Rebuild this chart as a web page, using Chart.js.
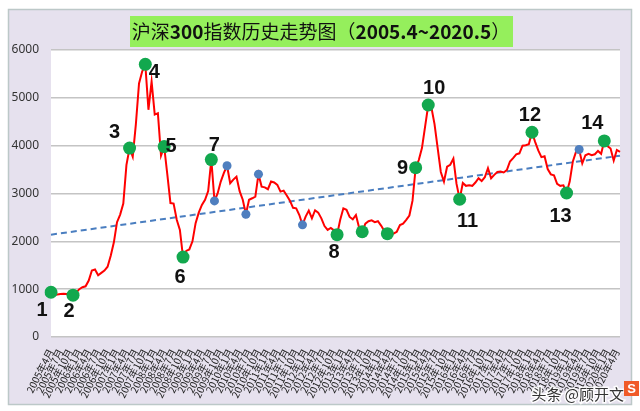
<!DOCTYPE html>
<html>
<head>
<meta charset="utf-8">
<script src="https://cdn.jsdelivr.net/npm/chart.js@4.4.1/dist/chart.umd.min.js"></script>
<style>
  html, body { margin: 0; padding: 0; background: #fff; }
</style>
</head>
<body>
<canvas id="myChart" width="640" height="411"></canvas>
<script>
// monthly index level, 2005年4月 .. 2020年5月
const values = [
  935, 880, 890, 900, 905, 900, 890, 875, 925,                       // 2005
  1000, 1040, 1060, 1180, 1390, 1410, 1290, 1340, 1390, 1470, 1700, 1980, // 2006
  2400, 2560, 2790, 3600, 3950, 3770, 4450, 5300, 5550, 5700, 4750, 5340, // 2007
  4650, 4680, 3790, 3980, 3400, 2800, 2790, 2450, 2240, 1670, 1800, 1830, // 2008
  2000, 2380, 2600, 2760, 2870, 3050, 3710, 2845, 3000, 3250, 3430, 3580, // 2009
  3215, 3290, 3350, 3050, 2870, 2567, 2870, 2900, 2935, 3404, 3144, 3128, // 2010
  3090, 3250, 3230, 3180, 3040, 3060, 2960, 2850, 2700, 2690, 2550, 2345, // 2011
  2517, 2643, 2482, 2650, 2600, 2480, 2320, 2240, 2280, 2230, 2140, 2450, // 2012
  2690, 2660, 2510, 2460, 2550, 2290, 2200, 2370, 2420, 2440, 2400, 2420, // 2013
  2330, 2220, 2160, 2150, 2165, 2200, 2340, 2370, 2450, 2540, 2850, 3540, // 2014
  3700, 3950, 4400, 4850, 4800, 4450, 3950, 3450, 3250, 3560, 3600, 3730, // 2015
  3200, 2880, 3220, 3160, 3170, 3160, 3230, 3320, 3260, 3340, 3530, 3320, // 2016
  3390, 3450, 3460, 3440, 3490, 3670, 3740, 3820, 3840, 4000, 4010, 4030, // 2017
  4280, 4080, 3900, 3760, 3780, 3510, 3400, 3380, 3200, 3160, 3170, 3010, // 2018
  3250, 3670, 3870, 3920, 3630, 3800, 3830, 3800, 3820, 3890, 3830, 4100, // 2019
  3990, 3940, 3690, 3910, 3870                                       // 2020
]

// linear trend, value at first and last month
const trendEnds = [2140, 3790]

// marked points
const greenPoints = [0, 7, 25, 30, 36, 42, 51, 91, 99, 107, 116, 120, 130, 153, 164, 176]
const bluePoints = [52, 56, 62, 66, 80, 168]
const numberedPoints = [0, 7, 25, 30, 36, 42, 51, 91, 116, 120, 130, 153, 164, 176]
const pointNumbers = ['1', '2', '3', '4', '5', '6', '7', '8', '9', '10', '11', '12', '13', '14']
// where each number sits relative to its dot (px)
const numberOffsets = [
  [-9, 18], [-4, 16], [-15, -16], [9, 8], [7, 0], [-3, 20], [3, -14],
  [-3, 18], [-13, 1], [6, -17], [8, 22], [-2, -17], [-6, 23], [-12, -17]
]

const yTicks = [0, 1000, 2000, 3000, 4000, 5000, 6000]

const labels = []
for (let i = 0; i < values.length; i++) {
  const m = 4 + i
  const year = 2005 + Math.floor((m - 1) / 12)
  const month = ((m - 1) % 12) + 1
  labels.push(year + '年' + month + '月')
}

const lavender = '#e6e1ee'

const framePlugin = {
  id: 'frame',
  beforeDraw: (chart) => {
    const c = chart.ctx
    const a = chart.chartArea
    c.save()
    c.fillStyle = '#ffffff'
    c.fillRect(0, 0, chart.width, chart.height)
    c.fillStyle = lavender
    c.fillRect(8, 9, 624, 396)
    c.strokeStyle = '#bcc8c8'
    c.lineWidth = 1.5
    c.strokeRect(8.5, 9.5, 623, 395)
    c.fillStyle = '#ffffff'
    c.fillRect(a.left, a.top, a.right - a.left, a.bottom - a.top)
    c.restore()
  },
  afterDraw: (chart) => {
    const c = chart.ctx
    c.save()
    // title box
    c.fillStyle = '#95ef5c'
    c.fillRect(130, 16, 383, 31)
    const parts = [
      ['沪深', 'normal'], ['300', 'bold'], ['指数历史走势图（', 'normal'],
      ['2005.4~2020.5', 'bold'], ['）', 'normal']
    ]
    const fontFor = (w) => w + ' 19px "Noto Sans CJK SC", "Noto Sans", sans-serif'
    let total = 0
    parts.forEach(p => { c.font = fontFor(p[1]); total += c.measureText(p[0]).width })
    let x = 321 - total / 2
    c.fillStyle = '#111'
    c.textBaseline = 'middle'
    parts.forEach(p => {
      c.font = fontFor(p[1])
      c.fillText(p[0], x, 32)
      x += c.measureText(p[0]).width
    })
    // watermark
    c.font = '15px "Noto Sans CJK SC", sans-serif'
    c.textAlign = 'right'
    c.lineWidth = 3
    c.strokeStyle = 'rgba(255,255,255,0.9)'
    c.strokeText('头条 @顾开文', 624, 394)
    c.fillStyle = '#333'
    c.fillText('头条 @顾开文', 624, 394)
    c.fillStyle = '#f05a28'
    c.fillRect(624, 381, 15, 15)
    c.fillStyle = '#fff'
    c.font = 'bold 13px "Liberation Sans", sans-serif'
    c.textAlign = 'center'
    c.fillText('S', 631.5, 389)
    c.restore()
  }
}

const numberPlugin = {
  id: 'numbers',
  afterDatasetsDraw: (chart) => {
    const c = chart.ctx
    const meta = chart.getDatasetMeta(0)
    c.save()
    c.font = 'bold 20px "Liberation Sans", "DejaVu Sans", sans-serif'
    c.fillStyle = '#111'
    c.textAlign = 'center'
    c.textBaseline = 'middle'
    numberedPoints.forEach((idx, k) => {
      const p = meta.data[idx]
      c.fillText(pointNumbers[k], p.x + numberOffsets[k][0], p.y + numberOffsets[k][1])
    })
    c.restore()
  }
}

const data = {
  labels,
  datasets: [{
    data: values,
    borderColor: '#ff0000',
    borderWidth: 2,
    tension: 0,
    pointRadius: (ctx) => greenPoints.includes(ctx.dataIndex) ? 6.5 : (bluePoints.includes(ctx.dataIndex) ? 4.5 : 0),
    pointBackgroundColor: (ctx) => greenPoints.includes(ctx.dataIndex) ? '#12a84e' : '#4f7fbf',
    pointBorderWidth: 0,
    pointHoverRadius: 0
  },
  {
    data: [{ x: labels[0], y: trendEnds[0] }, { x: labels[labels.length - 1], y: trendEnds[1] }],
    borderColor: '#4a7ec0',
    borderWidth: 2,
    borderDash: [6, 4],
    pointRadius: 0
  }]
}

const options = {
  responsive: false,
  animation: false,
  layout: { padding: { top: 50, right: 20, left: 0, bottom: 0 } },
  plugins: { legend: { display: false }, tooltip: { enabled: false } },
  scales: {
    x: {
      grid: { display: false },
      border: { display: false },
      afterFit: (scale) => { scale.height = 74 },
      ticks: {
        autoSkip: false,
        minRotation: 63,
        maxRotation: 63,
        padding: 2,
        color: '#222',
        font: { size: 10, family: '"Noto Sans CJK SC", sans-serif' },
        callback: (val, i) => i % 3 === 0 ? labels[i] : ''
      }
    },
    y: {
      min: 0,
      max: 6000,
      afterFit: (scale) => { scale.width = 51 },
      afterBuildTicks: (scale) => { scale.ticks = yTicks.map(v => ({ value: v })) },
      border: { display: false },
      grid: { color: '#c4c4c4', lineWidth: 1.5, drawTicks: false },
      ticks: {
        padding: 12,
        color: '#333',
        font: { size: 12, family: '"Noto Sans", sans-serif' },
        callback: (v) => String(v)
      }
    }
  }
}

const ctx = document.getElementById('myChart').getContext('2d')
const myChart = new Chart(ctx, {
  type: 'line',
  data: data,
  options: options,
  plugins: [framePlugin, numberPlugin]
})
</script>
</body>
</html>
